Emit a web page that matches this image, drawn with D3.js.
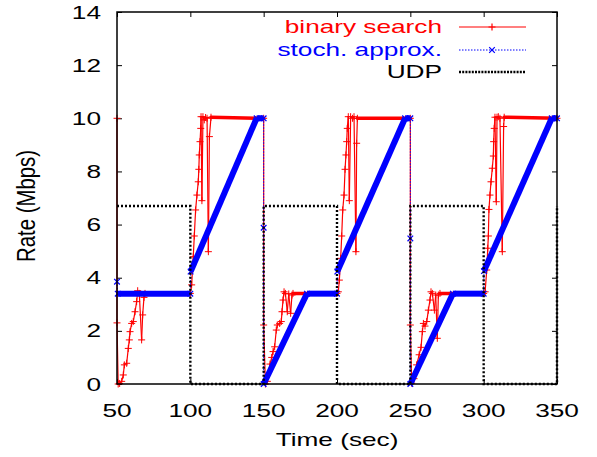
<!DOCTYPE html>
<html><head><meta charset="utf-8">
<script src="https://cdn.jsdelivr.net/npm/d3@7"></script>
<style>
html,body{margin:0;padding:0;background:#fff;}
text{font-family:"Liberation Sans",Arial,Helvetica,sans-serif;}
</style></head>
<body>
<svg id="chart" width="597" height="457"></svg>
<script>
// ---- data ----
const xTicks = [50, 100, 150, 200, 250, 300, 350];
const yTicks = [0, 2, 4, 6, 8, 10, 12, 14];
const seriesNames = ["binary search", "stoch. approx.", "UDP"];
const xLabel = "Time (sec)";
const yLabel = "Rate (Mbps)";

// binary search: [time, rate]
const binarySearch = [
  [50,10],[50,2.3],[50.8,0],[51.8,0.02],[53.2,0.1],[54.3,0.34],[55,0.72],[56.6,0.78],
  [57.7,1.34],[58.4,1.66],[58.9,1.97],[60,2.28],[61.1,2.35],[62.3,2.72],[63.4,3.1],
  [64.1,3.51],[65.2,3.41],[66.8,1.66],[67.5,2.6],[68.4,3.26],[69.1,3.41],[100,3.41],
  [100.9,3.73],[102,4.79],[102.7,5.57],[103.6,6.55],[104.5,7.11],[105.4,7.61],[105.8,8.08],
  [106.1,8.62],[106.6,9.12],[107.1,9.62],[107.3,10.06],[107.9,6.9],[108.6,10.06],[109.5,9.94],
  [110.4,10.03],[111.4,10],[112.3,4.98],[113,9.31],[114.1,10.04],[150,10],
  [150,2.22],[151.2,0],[152.5,0.1],[154.3,0.75],[155.5,1.0],[156.4,1.22],[157.5,1.4],
  [158.6,2.03],[159.3,2.22],[160.9,2.28],[162,2.35],[162.5,2.72],[163.2,3.16],[163.9,3.47],
  [164.8,3.41],[166.1,2.72],[167.1,3.39],[168.4,2.66],[169.3,3.35],[170,3.41],[200,3.41],
  [200.9,3.47],[201.6,3.91],[202.5,4.73],[203.2,5.57],[203.9,6.55],[204.8,7.11],[205.5,8.08],
  [206.1,8.62],[206.6,9.12],[207,9.62],[207.7,10.06],[208.4,6.9],[209.3,10.06],[210.6,10],
  [211.6,10.06],[212.9,4.98],[213.4,9.06],[213.9,10],[250,10],
  [250,2.22],[250.9,0.03],[252.5,0.2],[254.3,0.72],[256,1.1],[257.3,1.38],[258.2,1.97],
  [258.9,2.28],[260,2.18],[261.2,2.35],[262.3,2.78],[263.4,3.16],[264.1,3.47],[265,3.41],
  [266.4,2.78],[267.3,3.35],[268.4,1.72],[269.1,3.35],[270.2,3.41],[300,3.41],
  [301,3.47],[302.1,4.29],[302.8,5.11],[303.2,5.57],[303.6,6.57],[304.3,7.11],[305,7.61],
  [305.9,8.12],[306.6,8.58],[306.8,9.12],[307.2,9.62],[307.7,10.04],[308.6,6.86],[309.1,10.04],
  [310,10.06],[311.1,10],[312.7,4.98],[313.6,9.69],[314,10.04],[350,10]
];

// stochastic approximation: [time, rate]
const stochApprox = [
  [50,3.85],[50.5,3.4],[100,3.4],[100.2,4.23],[145.2,10],[150,10],[150,5.88],[150,0],
  [179.5,3.4],[200,3.4],[200.2,4.23],[246.4,10],[250,10],[250,5.48],[250,0],
  [279,3.4],[300,3.4],[300.2,4.25],[346.4,10],[350,10]
];

// UDP cross traffic: [time, rate]
const udp = [
  [50,6.7],[100,6.7],[100,0],[150,0],[150,6.7],[200,6.7],[200,0],[250,0],
  [250,6.7],[300,6.7],[300,0],[350,0],[350,6.7]
];

// ---- layout ----
const svg = d3.select("#chart");
const L = 117, R = 557, T = 12, B = 384;
const SX = 1.38; // horizontal stretch of the text
const FS = 19;
const x = d3.scaleLinear().domain([50, 350]).range([L, R]);
const y = d3.scaleLinear().domain([0, 14]).range([B, T]);

// ticks (inside, mirrored)
const tk = 5;
svg.append("g").attr("transform", `translate(0,${B})`)
  .call(d3.axisBottom(x).tickValues(xTicks).tickSize(-tk).tickSizeOuter(0).tickFormat(""));
svg.append("g").attr("transform", `translate(0,${T})`)
  .call(d3.axisTop(x).tickValues(xTicks).tickSize(-tk).tickSizeOuter(0).tickFormat(""));
svg.append("g").attr("transform", `translate(${L},0)`)
  .call(d3.axisLeft(y).tickValues(yTicks).tickSize(-tk).tickSizeOuter(0).tickFormat(""));
svg.append("g").attr("transform", `translate(${R},0)`)
  .call(d3.axisRight(y).tickValues(yTicks).tickSize(-tk).tickSizeOuter(0).tickFormat(""));
svg.selectAll(".domain").remove();
svg.selectAll(".tick line").attr("stroke", "#000").attr("stroke-width", 1);

// tick labels
svg.append("g").selectAll("text").data(xTicks).join("text")
  .attr("transform", d => `translate(${x(d)},417) scale(${SX},1)`)
  .attr("text-anchor", "middle").attr("font-size", FS).attr("fill", "#000")
  .text(d => d);
svg.append("g").selectAll("text").data(yTicks).join("text")
  .attr("transform", d => `translate(101,${y(d) + 6.5}) scale(${SX},1)`)
  .attr("text-anchor", "end").attr("font-size", FS).attr("fill", "#000")
  .text(d => d);

// axis titles
svg.append("text").attr("transform", `translate(${(L + R) / 2},446) scale(${SX},1)`)
  .attr("text-anchor", "middle").attr("font-size", FS).text(xLabel);
svg.append("text").attr("transform", `translate(35,206) scale(1.3,1) rotate(-90)`)
  .attr("text-anchor", "middle").attr("font-size", 20.4).text(yLabel);

const plot = svg.append("g");
const plus = "M-3.5,0H3.5M0,-3.5V3.5";
const cross = "M-2.8,-2.8L2.8,2.8M-2.8,2.8L2.8,-2.8";
const isFlat = d => Math.abs(d[0][1] - d[1][1]) < 0.1 && d[1][0] - d[0][0] > 2;

// binary search (red)
plot.append("g").selectAll("line").data(d3.pairs(binarySearch)).join("line")
  .attr("x1", d => x(d[0][0])).attr("y1", d => y(d[0][1]))
  .attr("x2", d => x(d[1][0])).attr("y2", d => y(d[1][1]))
  .attr("stroke", "#ff0000").attr("stroke-linecap", "round")
  .attr("stroke-width", d => isFlat(d) ? 3.5 : 1.2);
plot.append("g").selectAll("path").data(binarySearch).join("path")
  .attr("transform", d => `translate(${x(d[0])},${y(d[1])})`)
  .attr("d", plus).attr("stroke", "#ff0000").attr("stroke-width", 1).attr("fill", "none");

// stoch. approx. (blue)
plot.append("g").selectAll("line").data(d3.pairs(stochApprox)).join("line")
  .attr("x1", d => x(d[0][0])).attr("y1", d => y(d[0][1]))
  .attr("x2", d => x(d[1][0])).attr("y2", d => y(d[1][1]))
  .attr("stroke", "#0000ff")
  .attr("stroke-width", d => (d[1][0] - d[0][0] > 1) ? 6 : 1)
  .attr("stroke-dasharray", d => (d[1][0] - d[0][0] > 1) ? null : "1.5,1.5");
plot.append("g").selectAll("path").data(stochApprox).join("path")
  .attr("transform", d => `translate(${x(d[0])},${y(d[1])})`)
  .attr("d", cross).attr("stroke", "#0000ff").attr("stroke-width", 1.3).attr("fill", "none");

// UDP (black dotted)
plot.append("path").datum(udp)
  .attr("d", d3.line().x(d => x(d[0])).y(d => y(d[1])))
  .attr("fill", "none").attr("stroke", "#000").attr("stroke-width", 2.4)
  .attr("stroke-dasharray", "2,2");

// frame
svg.append("rect").attr("x", L).attr("y", T).attr("width", R - L).attr("height", B - T)
  .attr("fill", "none").attr("stroke", "#000").attr("stroke-width", 1.5);

// legend
const legY = [27, 50, 72];
const lg = svg.append("g");
seriesNames.forEach((name, i) => {
  const col = ["#ff0000", "#0000ff", "#000"][i];
  lg.append("text").attr("transform", `translate(442,${legY[i] + 5.5}) scale(${SX},1)`)
    .attr("text-anchor", "end").attr("font-size", FS).attr("fill", col).text(name);
  const ln = lg.append("line").attr("x1", 459).attr("x2", 526)
    .attr("y1", legY[i]).attr("y2", legY[i]).attr("stroke", col);
  if (i === 0) ln.attr("stroke-width", 1.2);
  if (i === 1) ln.attr("stroke-width", 1).attr("stroke-dasharray", "1.5,1.5");
  if (i === 2) ln.attr("stroke-width", 2.4).attr("stroke-dasharray", "2,1.2");
  if (i < 2) lg.append("path").attr("transform", `translate(492,${legY[i]})`)
    .attr("d", i === 0 ? plus : cross).attr("stroke", col).attr("stroke-width", 1.2).attr("fill", "none");
});
</script>
</body></html>
